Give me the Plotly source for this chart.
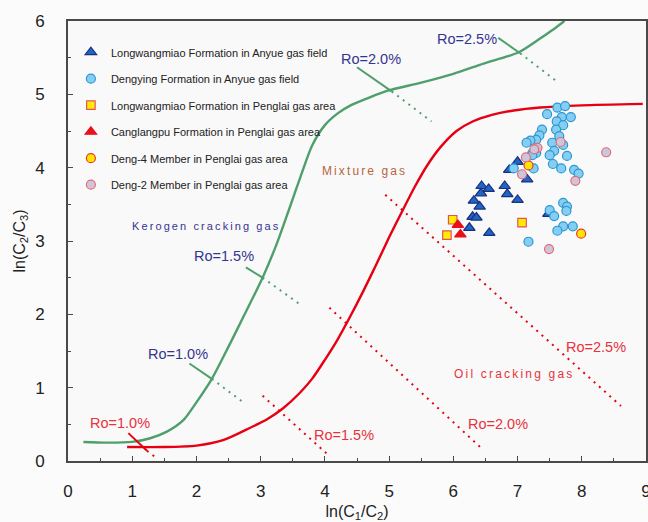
import plotly.graph_objects as go

# ---------------- data ----------------
# Kerogen cracking gas curve (green)
kerogen_x = [0.24, 0.6, 1.0, 1.28, 1.54, 1.80, 2.0, 2.24, 2.5, 2.75, 3.03, 3.25, 3.45, 3.61, 3.8, 4.0, 4.2, 4.4, 4.7, 4.98, 5.5, 6.0, 6.47, 7.01, 7.35, 7.55, 7.73]
kerogen_y = [0.26, 0.25, 0.26, 0.31, 0.40, 0.56, 0.80, 1.12, 1.56, 2.00, 2.50, 2.96, 3.45, 3.85, 4.30, 4.58, 4.74, 4.85, 4.96, 5.05, 5.16, 5.28, 5.42, 5.57, 5.76, 5.88, 6.00]

# Oil cracking gas curve (red)
oil_x = [0.92, 1.5, 2.0, 2.4, 2.83, 3.1, 3.35, 3.6, 3.8, 4.0, 4.2, 4.4, 4.6, 4.8, 5.0, 5.2, 5.4, 5.6, 5.8, 6.05, 6.3, 6.6, 6.94, 7.35, 8.0, 8.95]
oil_y = [0.19, 0.19, 0.21, 0.28, 0.45, 0.57, 0.72, 0.92, 1.12, 1.38, 1.66, 1.98, 2.32, 2.68, 3.05, 3.40, 3.74, 4.04, 4.28, 4.50, 4.63, 4.72, 4.78, 4.82, 4.85, 4.87]

# Ro iso-lines on kerogen curve: solid part then dotted part
ker_ro_labels = ["Ro=1.0%", "Ro=1.5%", "Ro=2.0%", "Ro=2.5%"]
ker_ro_solid_x = [[1.89, 2.24], [2.77, 3.03], [4.50, 5.04], [6.70, 7.04]]
ker_ro_solid_y = [[1.33, 1.12], [2.64, 2.50], [5.37, 5.04], [5.77, 5.56]]
ker_ro_dot_x = [[2.24, 2.76], [3.03, 3.59], [5.04, 5.66], [7.04, 7.59]]
ker_ro_dot_y = [[1.12, 0.78], [2.50, 2.15], [5.04, 4.63], [5.56, 5.19]]
ker_ro_label_x = [1.71, 2.43, 4.72, 6.22]
ker_ro_label_y = [1.46, 2.80, 5.48, 5.75]

# Ro iso-lines on oil curve
oil_ro_labels = ["Ro=1.0%", "Ro=1.5%", "Ro=2.0%", "Ro=2.5%"]
oil_ro_solid_x = [[0.94, 1.23], [], [], []]
oil_ro_solid_y = [[0.38, 0.14], [], [], []]
oil_ro_dot_x = [[1.23, 1.35], [3.03, 4.08], [4.07, 6.43], [4.94, 8.61]]
oil_ro_dot_y = [[0.14, 0.06], [0.89, 0.06], [2.09, 0.18], [3.63, 0.75]]
oil_ro_label_x = [0.81, 4.30, 6.70, 8.22]
oil_ro_label_y = [0.52, 0.35, 0.51, 1.55]

# Sample series: ln(C1/C2), ln(C2/C3)
lwm_anyue_x = [7.00, 6.87, 7.15, 6.44, 6.55, 6.80, 6.43, 6.84, 6.32, 6.41, 7.00, 6.30, 6.36, 6.25, 6.56, 7.48]
lwm_anyue_y = [4.08, 3.97, 3.84, 3.75, 3.71, 3.75, 3.65, 3.64, 3.55, 3.47, 3.56, 3.33, 3.32, 3.18, 3.11, 3.37]

dy_anyue_x = [7.62, 7.74, 7.46, 7.69, 7.83, 7.61, 7.71, 7.38, 7.60, 7.34, 7.65, 7.29, 7.20, 7.14, 7.54,
              7.71, 7.57, 7.50, 7.77, 7.23, 7.29, 7.23, 6.94, 7.25, 7.55, 7.68, 7.88, 7.95,
              7.71, 7.77, 7.76, 7.50, 7.57, 7.71, 7.86, 7.62, 7.17]
dy_anyue_y = [4.82, 4.84, 4.73, 4.69, 4.69, 4.63, 4.58, 4.52, 4.52, 4.44, 4.43, 4.38, 4.37, 4.34, 4.34,
              4.31, 4.23, 4.17, 4.16, 4.20, 4.20, 4.17, 3.99, 3.99, 4.05, 3.99, 3.97, 3.92,
              3.52, 3.47, 3.41, 3.42, 3.34, 3.20, 3.20, 3.14, 2.99]

lwm_penglai_x = [5.99, 5.90, 7.07]
lwm_penglai_y = [3.29, 3.08, 3.25]

clp_penglai_x = [6.07, 6.11]
clp_penglai_y = [3.22, 3.09]

deng4_x = [7.17, 7.99]
deng4_y = [4.03, 3.10]

deng2_x = [7.31, 7.26, 7.67, 7.13, 7.07, 7.90, 8.38, 7.49]
deng2_y = [4.27, 4.25, 4.35, 4.14, 3.91, 3.82, 4.21, 2.89]

x_ticks = [0, 1, 2, 3, 4, 5, 6, 7, 8, 9]
y_ticks = [0, 1, 2, 3, 4, 5, 6]

# ---------------- styles ----------------
GREEN = "#4f9f6d"
RED = "#e60012"
BLUE_TXT = "#35358f"
RED_TXT = "#e8323c"
FONT = "Liberation Sans, Arial, sans-serif"

fig = go.Figure()

fig.add_trace(go.Scatter(x=kerogen_x, y=kerogen_y, mode="lines", line=dict(color=GREEN, width=2.4, shape="spline", smoothing=0.7),
                         showlegend=False, hoverinfo="skip"))
fig.add_trace(go.Scatter(x=oil_x, y=oil_y, mode="lines", line=dict(color=RED, width=2.4, shape="spline", smoothing=0.7),
                         showlegend=False, hoverinfo="skip"))

for sx, sy, dx, dy in zip(ker_ro_solid_x, ker_ro_solid_y, ker_ro_dot_x, ker_ro_dot_y):
    fig.add_trace(go.Scatter(x=sx, y=sy, mode="lines", line=dict(color=GREEN, width=2), showlegend=False, hoverinfo="skip"))
    fig.add_trace(go.Scatter(x=dx, y=dy, mode="lines", line=dict(color=GREEN, width=2, dash="2px,5px"), showlegend=False, hoverinfo="skip"))

for sx, sy, dx, dy in zip(oil_ro_solid_x, oil_ro_solid_y, oil_ro_dot_x, oil_ro_dot_y):
    if sx:
        fig.add_trace(go.Scatter(x=sx, y=sy, mode="lines", line=dict(color=RED, width=2), showlegend=False, hoverinfo="skip"))
    fig.add_trace(go.Scatter(x=dx, y=dy, mode="lines", line=dict(color=RED, width=2, dash="2px,5px"), showlegend=False, hoverinfo="skip"))

series = [
    ("Longwangmiao Formation in Anyue gas field", lwm_anyue_x, lwm_anyue_y, "triangle-up", 10, "#1f66c2", "#1b2f80"),
    ("Dengying Formation in Anyue gas field", dy_anyue_x, dy_anyue_y, "circle", 9, "#86cef1", "#2a98d5"),
    ("Longwangmiao Formation in Penglai gas area", lwm_penglai_x, lwm_penglai_y, "square", 8.5, "#ffee00", "#e8505b"),
    ("Canglangpu Formation in Penglai gas area", clp_penglai_x, clp_penglai_y, "triangle-up", 10, "#e8101a", "#e8101a"),
    ("Deng-4 Member in Penglai gas area", deng4_x, deng4_y, "circle", 9, "#ffe400", "#e63a2a"),
    ("Deng-2 Member in Penglai gas area", deng2_x, deng2_y, "circle", 9, "#cbc6da", "#e86a74"),
]
for i, (name, xs, ys, sym, size, fill, edge) in enumerate(series):
    fig.add_trace(go.Scatter(x=xs, y=ys, mode="markers", name=name, legendgroup=f"g{i}",
                             marker=dict(symbol=sym, size=size, color=fill, line=dict(color=edge, width=1.2))))

ann = []
for t, x, y in zip(ker_ro_labels, ker_ro_label_x, ker_ro_label_y):
    ann.append(dict(x=x, y=y, text=t, showarrow=False, font=dict(family=FONT, size=14.5, color=BLUE_TXT)))
for t, x, y in zip(oil_ro_labels, oil_ro_label_x, oil_ro_label_y):
    ann.append(dict(x=x, y=y, text=t, showarrow=False, font=dict(family=FONT, size=14.5, color=RED_TXT)))
ann.append(dict(x=2.15, y=3.21, text='<span style="letter-spacing:2.1px">Kerogen cracking gas</span>', showarrow=False,
                font=dict(family=FONT, size=11, color=BLUE_TXT)))
ann.append(dict(x=4.61, y=3.95, text='<span style="letter-spacing:2.1px">Mixture gas</span>', showarrow=False,
                font=dict(family=FONT, size=12, color="#b5653d")))
ann.append(dict(x=6.95, y=1.18, text='<span style="letter-spacing:2.2px">Oil cracking gas</span>', showarrow=False,
                font=dict(family=FONT, size=12, color=RED_TXT)))

axis_common = dict(showline=True, linecolor="#4a4a4a", linewidth=1.6, mirror=True, showgrid=False, zeroline=False,
                   automargin=False, ticklabeloverflow="allow",
                   ticks="inside", ticklen=5, tickwidth=1.2, tickcolor="#4a4a4a",
                   minor=dict(ticks="inside", ticklen=3, tickwidth=1, tickcolor="#4a4a4a", dtick=0.5),
                   tickfont=dict(family=FONT, size=17, color="#222222"))

fig.update_layout(
    width=648, height=522,
    margin=dict(l=68, r=2, t=21, b=61),
    paper_bgcolor="#fbfbfb", plot_bgcolor="#f9f9f9",
    font=dict(family=FONT, color="#222222"),
    xaxis=dict(range=[0, 9], tickvals=x_ticks, ticklabelstandoff=14,
               title=dict(text="ln(C<sub>1</sub>/C<sub>2</sub>)", font=dict(family=FONT, size=16, color="#222222"), standoff=10),
               **axis_common),
    yaxis=dict(range=[0, 6], tickvals=y_ticks, ticklabelstandoff=18,
               title=dict(text="ln(C<sub>2</sub>/C<sub>3</sub>)", font=dict(family=FONT, size=16, color="#222222"), standoff=6),
               **axis_common),
    legend=dict(x=0.005, y=0.962, xanchor="left", yanchor="top", bgcolor="rgba(0,0,0,0)",
                font=dict(family=FONT, size=11, color="#222222"), tracegroupgap=7.5, itemwidth=30),
    annotations=ann,
)

fig.write_html("out.html", config={"displayModeBar": False},
               post_script="document.body.style.margin='0px';")
